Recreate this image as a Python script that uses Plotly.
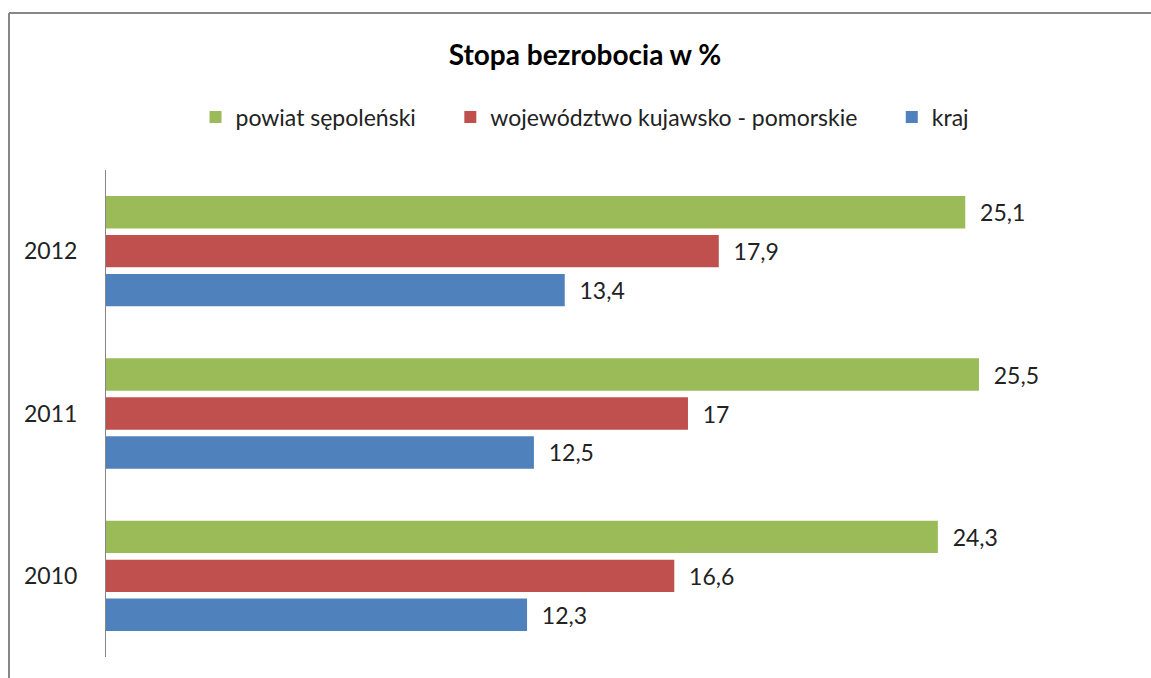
import plotly.graph_objects as go

years = ["2010", "2011", "2012"]
kraj = [12.3, 12.5, 13.4]
wojewodztwo = [16.6, 17.0, 17.9]
powiat = [24.3, 25.5, 25.1]

names = ["kraj", "województwo kujawsko - pomorskie", "powiat sępoleński"]
colors = ["#4F81BD", "#C0504D", "#9BBB59"]
series = [kraj, wojewodztwo, powiat]

FONT = "Lato"
TXT = "#222222"
FS = 23


def fmt(v):
    s = ("%g" % v).replace(".", ",")
    return "\u00a0\u00a0" + s


fig = go.Figure()
for i, (name, col, vals) in enumerate(zip(names, colors, series)):
    pad = "" if i == 0 else "\u00a0" * 5
    fig.add_trace(go.Bar(
        y=years, x=vals, name=name + pad, orientation="h",
        marker=dict(color=col, line=dict(width=0)),
        text=[fmt(v) for v in vals], textposition="outside",
        textfont=dict(family=FONT, size=FS, color=TXT),
        cliponaxis=False,
    ))

fig.update_layout(
    width=1151, height=678,
    paper_bgcolor="white", plot_bgcolor="white",
    margin=dict(l=106, r=18, t=170, b=21),
    barmode="group", bargap=0.28, bargroupgap=0.17,
    font=dict(family=FONT, size=FS, color=TXT),
    title=dict(text="<b>Stopa bezrobocia w %</b>", x=585 / 1151, xref="container",
               y=1 - 55 / 678, yref="container", xanchor="center", yanchor="middle",
               font=dict(family=FONT, size=28, color="#000000")),
    legend=dict(orientation="h", traceorder="reversed",
                x=585 / 1151, xref="container", xanchor="center",
                y=1 - 117 / 678, yref="container", yanchor="middle",
                font=dict(family=FONT, size=FS, color=TXT),
                itemwidth=30),
    showlegend=True,
)
fig.update_xaxes(range=[0, 30], visible=False, showgrid=False, zeroline=False)
fig.update_yaxes(type="category", categoryorder="array", categoryarray=years,
                 range=[-0.5, 2.5], showline=True, linecolor="#868686", linewidth=1,
                 showgrid=False, zeroline=False, ticks="", ticklabelstandoff=23,
                 tickfont=dict(family=FONT, size=FS, color=TXT))

bx = (9 - 106) / 1027
by = (657 - 13) / 487
border = dict(color="#878787", width=2)
fig.add_shape(type="line", xref="paper", yref="paper", x0=bx, x1=(1151 - 106) / 1027,
              y0=by, y1=by, line=border, layer="below")
fig.add_shape(type="line", xref="paper", yref="paper", x0=bx, x1=bx, y0=-21 / 487, y1=by,
              line=border, layer="below")

fig.write_html(
    "out.html", config={"displayModeBar": False},
    post_script=("document.documentElement.style.overflow='hidden';"
                 "document.body.style.margin='0';document.body.style.overflow='hidden';"))
